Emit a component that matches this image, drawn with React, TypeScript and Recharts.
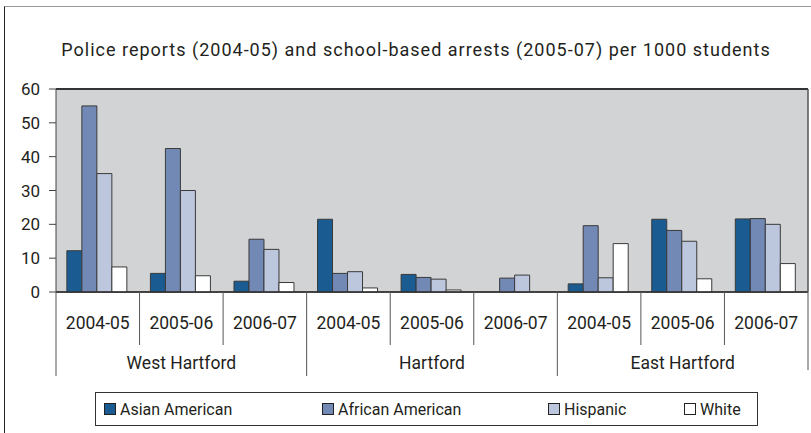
import { BarChart, Bar, XAxis, YAxis, CartesianGrid, ReferenceLine } from "recharts";

const PERIODS = ["2004-05", "2005-06", "2006-07"];
const TOWNS = ["West Hartford", "Hartford", "East Hartford"];

// one value per town/period, in order WH 04-05 .. EH 06-07
const ASIAN = [12.2, 5.5, 3.2, 21.5, 5.2, null, 2.4, 21.5, 21.6];
const AFRICAN = [55, 42.4, 15.6, 5.5, 4.3, 4.1, 19.6, 18.2, 21.7];
const HISPANIC = [35, 30, 12.6, 6.0, 3.8, 5.0, 4.2, 15.0, 20.0];
const WHITE = [7.4, 4.8, 2.8, 1.2, 0.6, null, 14.3, 3.9, 8.4];

const Y_TICKS = [0, 10, 20, 30, 40, 50, 60];

const SERIES = [
  { key: "asian", name: "Asian American", color: "#1a5c92" },
  { key: "african", name: "African American", color: "#7189b4" },
  { key: "hispanic", name: "Hispanic", color: "#bcc6dd" },
  { key: "white", name: "White", color: "#ffffff" },
];

const data = TOWNS.flatMap((town, t) =>
  PERIODS.map((year, p) => {
    const i = t * 3 + p;
    return {
      key: `${town} ${year}`,
      town,
      year,
      asian: ASIAN[i],
      african: AFRICAN[i],
      hispanic: HISPANIC[i],
      white: WHITE[i],
    };
  })
);

const W = 811;
const H = 433;
const PLOT_LEFT = 56;
const PLOT_RIGHT = 808;
const PLOT_TOP = 89;
const PLOT_BOTTOM = 292;
const BAND = (PLOT_RIGHT - PLOT_LEFT) / data.length;
const TEXT = "#231f20";
const FONT = "Roboto, sans-serif";

function CategoryTick(props: any) {
  const { x, index } = props;
  const row = data[index];
  const left = x - BAND / 2;
  const groupStart = index % 3 === 0;
  return (
    <g>
      <text x={x} y={PLOT_BOTTOM + 37} textAnchor="middle" fontSize={17.5} fill={TEXT} fontFamily={FONT}>
        {row.year}
      </text>
      <line x1={left} x2={left} y1={PLOT_BOTTOM} y2={groupStart ? 376 : 345} stroke="#555" strokeWidth={1} />
      {index % 3 === 1 && (
        <text x={x} y={PLOT_BOTTOM + 77} textAnchor="middle" fontSize={17.5} fill={TEXT} fontFamily={FONT}>
          {row.town}
        </text>
      )}
      {index === data.length - 1 && (
        <line x1={left + BAND} x2={left + BAND} y1={PLOT_BOTTOM} y2={370} stroke="#555" strokeWidth={1} />
      )}
    </g>
  );
}

function LegendBox() {
  const widths = [218, 226, 136, 70];
  return (
    <div
      style={{
        position: "absolute",
        left: 95,
        top: 392,
        width: 663,
        height: 34,
        boxSizing: "border-box",
        border: "1px solid #333",
        display: "flex",
        alignItems: "center",
        paddingLeft: 8,
        fontFamily: FONT,
        fontSize: 16,
        color: TEXT,
      }}
    >
      {SERIES.map((s, i) => (
        <div key={s.key} style={{ width: widths[i], display: "flex", alignItems: "center" }}>
          <span
            style={{
              width: 12,
              height: 12,
              boxSizing: "border-box",
              background: s.color,
              border: "1px solid #222",
              marginRight: 4,
              display: "inline-block",
            }}
          />
          <span>{s.name}</span>
        </div>
      ))}
    </div>
  );
}

export default function App() {
  return (
    <div style={{ position: "absolute", left: 0, top: 0, width: W, height: H, background: "#fff", fontFamily: FONT }}>
      <div
        style={{
          position: "absolute",
          left: 4,
          top: 6,
          width: W - 4,
          height: H - 6,
          boxSizing: "border-box",
          borderTop: "1.5px solid #9a9a9a",
          borderLeft: "1.5px solid #222",
        }}
      />
      <div
        style={{
          position: "absolute",
          left: 16,
          top: 39,
          width: 800,
          textAlign: "center",
          fontSize: 18,
          letterSpacing: 1,
          lineHeight: "21px",
          color: TEXT,
        }}
      >
        Police reports (2004-05) and school-based arrests (2005-07) per 1000 students
      </div>
      <div style={{ position: "absolute", left: 0, top: 0 }}>
        <BarChart
          width={W}
          height={H}
          data={data}
          margin={{ top: PLOT_TOP, right: 0, left: 0, bottom: H - PLOT_BOTTOM - 84 }}
          barCategoryGap="13%"
          barGap={0}
        >
          <CartesianGrid vertical={false} stroke="#4d4d4d" strokeWidth={1.5} fill="#d2d3d5" fillOpacity={1} />
          <XAxis
            dataKey="key"
            height={84}
            axisLine={{ stroke: "#333", strokeWidth: 1.5 }}
            tickLine={false}
            interval={0}
            tick={<CategoryTick />}
          />
          <YAxis
            yAxisId="left"
            width={PLOT_LEFT}
            domain={[0, 60]}
            ticks={Y_TICKS}
            interval={0}
            axisLine={{ stroke: "#444" }}
            tickLine={{ stroke: "#444" }}
            tickSize={7}
            tickMargin={9}
            tick={{ fill: TEXT, fontSize: 17, fontFamily: FONT }}
          />
          <YAxis
            yAxisId="right"
            orientation="right"
            width={W - PLOT_RIGHT}
            domain={[0, 60]}
            tick={false}
            tickLine={false}
            axisLine={{ stroke: "#555", strokeWidth: 1.5 }}
          />
          <ReferenceLine yAxisId="left" y={60} stroke="#333" strokeWidth={2} />
          {SERIES.map((s) => (
            <Bar
              key={s.key}
              yAxisId="left"
              dataKey={s.key}
              name={s.name}
              fill={s.color}
              stroke="#3a3a3a"
              strokeWidth={1}
              isAnimationActive={false}
            />
          ))}
        </BarChart>
      </div>
      <LegendBox />
    </div>
  );
}
